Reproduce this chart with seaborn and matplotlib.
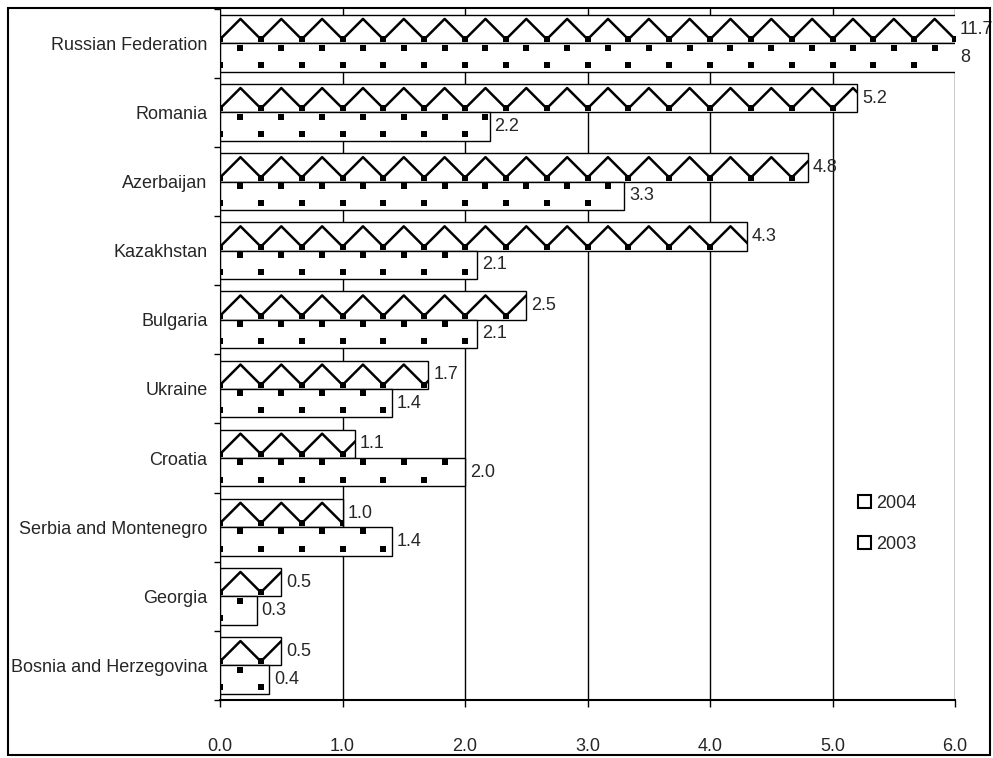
import pandas as pd
import numpy as np
import seaborn as sns
import matplotlib.pyplot as plt
from matplotlib.patches import Patch, Rectangle

countries = ["Russian Federation", "Romania", "Azerbaijan", "Kazakhstan", "Bulgaria",
             "Ukraine", "Croatia", "Serbia and Montenegro", "Georgia", "Bosnia and Herzegovina"]
vals_2004 = [11.7, 5.2, 4.8, 4.3, 2.5, 1.7, 1.1, 1.0, 0.5, 0.5]
vals_2003 = [8, 2.2, 3.3, 2.1, 2.1, 1.4, 2.0, 1.4, 0.3, 0.4]
labels_2004 = ["11.7", "5.2", "4.8", "4.3", "2.5", "1.7", "1.1", "1.0", "0.5", "0.5"]
labels_2003 = ["8", "2.2", "3.3", "2.1", "2.1", "1.4", "2.0", "1.4", "0.3", "0.4"]
years = ["2004", "2003"]

df = pd.DataFrame({
    "country": countries * 2,
    "value": vals_2004 + vals_2003,
    "year": ["2004"] * len(countries) + ["2003"] * len(countries),
})

sns.set_style("white")
plt.rcParams['font.family'] = ['Liberation Sans', 'DejaVu Sans']

fig = plt.figure(figsize=(9.93, 7.58), dpi=100)
ax = fig.add_axes([0.2216, 0.0765, 0.7402, 0.912])

sns.barplot(data=df, x="value", y="country", hue="year", hue_order=years,
            order=countries, orient="h", width=0.82, gap=0, dodge=True,
            palette=["white", "white"], edgecolor="black",
            linewidth=1.0, legend=False, ax=ax)

XMAX = 6
period = 1 / 3  # pattern repeat in data units (~40 px)


def bar_clip(bar):
    # visible part of the bar (bars longer than the axis are cut at XMAX)
    w = min(bar.get_width(), XMAX)
    rect = Rectangle((0, bar.get_y()), w, bar.get_height(), transform=ax.transData)
    return w, rect


# 2004: zigzag pattern, 2003: staggered dots -- both clipped to each bar
for bar in ax.containers[0]:
    w, rect = bar_clip(bar)
    y0, h = bar.get_y(), bar.get_height()
    n = int(np.ceil(w / (period / 2))) + 2
    k = np.arange(n)
    xs = k * period / 2
    ys = np.where(k % 2 == 0, y0 + 0.86 * h, y0 + 0.14 * h)
    line, = ax.plot(xs, ys, color="black", lw=1.8)
    line.set_clip_path(rect)
    dots = ax.scatter(xs[k % 2 == 0], ys[k % 2 == 0], marker="s", s=16,
                      color="black", linewidths=0, zorder=3)
    dots.set_clip_path(rect)

for bar in ax.containers[1]:
    w, rect = bar_clip(bar)
    y0, h = bar.get_y(), bar.get_height()
    xt = np.arange(period / 2, w, period)
    xb = np.arange(0, w, period)
    d1 = ax.scatter(xt, np.full(len(xt), y0 + 0.15 * h), marker="s", s=16,
                    color="black", linewidths=0, zorder=3)
    d2 = ax.scatter(xb, np.full(len(xb), y0 + 0.76 * h), marker="s", s=16,
                    color="black", linewidths=0, zorder=3)
    d1.set_clip_path(rect)
    d2.set_clip_path(rect)

ax.set_xlim(0, XMAX)
ax.set_ylim(len(countries) - 0.5, -0.5)
ax.set_xticks(np.arange(0, 7, 1))
ax.set_xticklabels([f"{v:.1f}" for v in np.arange(0, 7, 1)], fontsize=13)
ax.tick_params(axis="x", which="major", direction="out", length=5, width=1,
               color="black", pad=22, bottom=True)
ax.tick_params(axis="y", which="major", length=0, labelsize=13, pad=9)
ax.set_yticks(np.arange(len(countries) + 1) - 0.5, minor=True)
ax.tick_params(axis="y", which="minor", direction="out", length=4, width=1,
               color="black", left=True)
ax.xaxis.grid(True, color="black", linewidth=1.0)
ax.set_axisbelow(True)
ax.set_xlabel("")
ax.set_ylabel("")
for side in ["top", "right"]:
    ax.spines[side].set_visible(False)
ax.spines["left"].set_color("black")
ax.spines["bottom"].set_color("black")
ax.spines["bottom"].set_linewidth(1.5)

# value labels (bars beyond 6 are clipped at the axis edge)
for cont, labs in zip(ax.containers, [labels_2004, labels_2003]):
    for bar, lab in zip(cont, labs):
        x = min(bar.get_width(), XMAX)
        yc = bar.get_y() + bar.get_height() / 2
        ax.text(x + 0.04, yc, lab, va="center", ha="left", fontsize=13, clip_on=False)

handles = [Patch(facecolor="white", edgecolor="black", linewidth=1.5, label=y) for y in years]
ax.legend(handles=handles, loc="upper left", bbox_to_anchor=(0.855, 0.31), frameon=False,
          fontsize=13, handlelength=0.75, handleheight=0.75, handletextpad=0.3,
          labelspacing=1.35, borderpad=0)

fig.patches.append(Rectangle((0.008, 0.004), 0.989, 0.986, transform=fig.transFigure,
                             fill=False, edgecolor="black", linewidth=1.5))

fig.savefig("out.png", dpi=100)
